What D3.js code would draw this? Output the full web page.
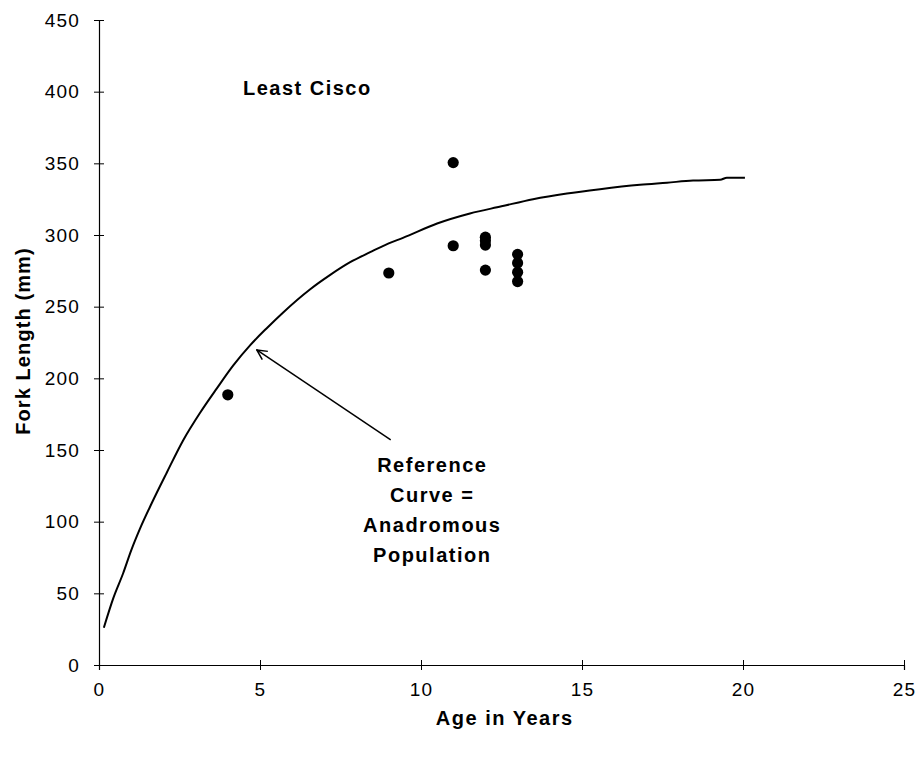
<!DOCTYPE html>
<html>
<head>
<meta charset="utf-8">
<script src="https://cdn.jsdelivr.net/npm/d3@7"></script>
<style>
  body { margin: 0; background: #fff; }
  text { font-family: Arial, "Liberation Sans", sans-serif; }
</style>
</head>
<body>
<div id="chart"></div>
<script>
// observed fish: age (years) and fork length (mm)
const pointAges = [4, 9, 11, 11, 12, 12, 12, 12, 13, 13, 13, 13];
const pointLengths = [188.5, 273.5, 350.5, 292.5, 298.5, 296, 293, 275.5, 286.5, 280.5, 274, 267.5];

// reference curve
const curveAges = [0.15, 0.45, 0.75, 1.0, 1.27, 1.64, 2.1, 2.62, 3.14, 3.66, 4.17, 4.69, 5.21, 5.72, 6.55, 7.17, 7.8, 8.42, 8.98, 9.44, 10.5, 11.52, 12.5, 13.48, 14.53, 15.56, 16.8, 17.64, 18.45, 19.29, 19.5, 20.06];
const curveLengths = [26, 47, 64, 80, 95, 113, 134, 157, 176, 193, 209, 223, 235, 246, 262, 272, 281, 288, 294, 298, 308, 315, 320, 325, 329, 332, 335, 336.5, 338, 338.5, 340, 340];

const xTicks = [0, 5, 10, 15, 20, 25];
const yTicks = [0, 50, 100, 150, 200, 250, 300, 350, 400, 450];

const svgWidth = 922;
const svgHeight = 757;
const margin = { top: 20, right: 18, bottom: 92, left: 99 };
const width = svgWidth - margin.left - margin.right;
const height = svgHeight - margin.top - margin.bottom;

const svg = d3.select("#chart")
    .append("svg")
    .attr("width", svgWidth)
    .attr("height", svgHeight);

const chart = svg.append("g")
    .attr("transform", `translate(${margin.left},${margin.top})`);

const x = d3.scaleLinear().domain([0, 25]).range([0, width]);
const y = d3.scaleLinear().domain([0, 450]).range([height, 0]);

// axes, ticks cross the line
const xAxis = chart.append("g")
    .attr("transform", `translate(0,${height})`)
    .call(d3.axisBottom(x).tickValues(xTicks).tickSize(5).tickPadding(13))
xAxis.selectAll(".tick line").attr("y1", -5).attr("y2", 5)

const yAxis = chart.append("g")
    .call(d3.axisLeft(y).tickValues(yTicks).tickSize(5).tickPadding(14))
yAxis.selectAll(".tick line").attr("x1", -5).attr("x2", 5)

chart.selectAll(".domain").attr("stroke", "#000").attr("stroke-width", 1.2)
chart.selectAll(".tick line").attr("stroke", "#000")
chart.selectAll(".tick text")
    .attr("font-size", 19)
    .attr("letter-spacing", "1.2px")
    .attr("font-family", "Arial, 'Liberation Sans', sans-serif")
    .attr("fill", "#000")

// reference curve
const curveData = curveAges.map((a, i) => ({ age: a, len: curveLengths[i] }))
chart.append("path")
    .datum(curveData)
    .attr("fill", "none")
    .attr("stroke", "#000")
    .attr("stroke-width", 2)
    .attr("d", d3.line()
        .x(d => x(d.age))
        .y(d => y(d.len))
        .curve(d3.curveMonotoneX))

// observed points
const pts = pointAges.map((a, i) => ({ age: a, len: pointLengths[i] }))
chart.selectAll("circle")
    .data(pts)
    .join("circle")
    .attr("cx", d => x(d.age))
    .attr("cy", d => y(d.len))
    .attr("r", 5.6)
    .attr("fill", "#000")

// arrow annotation
svg.append("defs").append("marker")
    .attr("id", "openArrow")
    .attr("viewBox", "0 0 12 12")
    .attr("refX", 11)
    .attr("refY", 6)
    .attr("markerWidth", 12)
    .attr("markerHeight", 12)
    .attr("markerUnits", "userSpaceOnUse")
    .attr("orient", "auto")
    .append("path")
    .attr("d", "M1,1 L11,6 L1,11")
    .attr("fill", "none")
    .attr("stroke", "#000")
    .attr("stroke-width", 1.5)

chart.append("line")
    .attr("x1", x(9.06))
    .attr("y1", y(157))
    .attr("x2", x(4.9))
    .attr("y2", y(219.8))
    .attr("stroke", "#000")
    .attr("stroke-width", 1.5)
    .attr("marker-end", "url(#openArrow)")

const noteLines = ["Reference", "Curve =", "Anadromous", "Population"]
chart.append("text")
    .attr("y", y(134.7))
    .attr("text-anchor", "middle")
    .attr("font-size", 20)
    .attr("font-weight", "bold")
    .attr("letter-spacing", "1.5px")
    .selectAll("tspan")
    .data(noteLines)
    .join("tspan")
    .attr("x", x(10.35))
    .attr("dy", (d, i) => i === 0 ? 0 : 30)
    .text(d => d)

// species label
chart.append("text")
    .attr("x", x(4.47))
    .attr("y", y(397.7))
    .attr("font-size", 20)
    .attr("font-weight", "bold")
    .attr("letter-spacing", "1.5px")
    .text("Least Cisco")

// axis titles
svg.append("text")
    .attr("x", margin.left + x(12.6))
    .attr("y", 725)
    .attr("text-anchor", "middle")
    .attr("font-size", 20)
    .attr("font-weight", "bold")
    .attr("letter-spacing", "1.5px")
    .text("Age in Years")

svg.append("text")
    .attr("transform", `translate(30,${margin.top + y(226)}) rotate(-90)`)
    .attr("text-anchor", "middle")
    .attr("font-size", 20)
    .attr("font-weight", "bold")
    .attr("letter-spacing", "1.1px")
    .text("Fork Length (mm)")
</script>
</body>
</html>
